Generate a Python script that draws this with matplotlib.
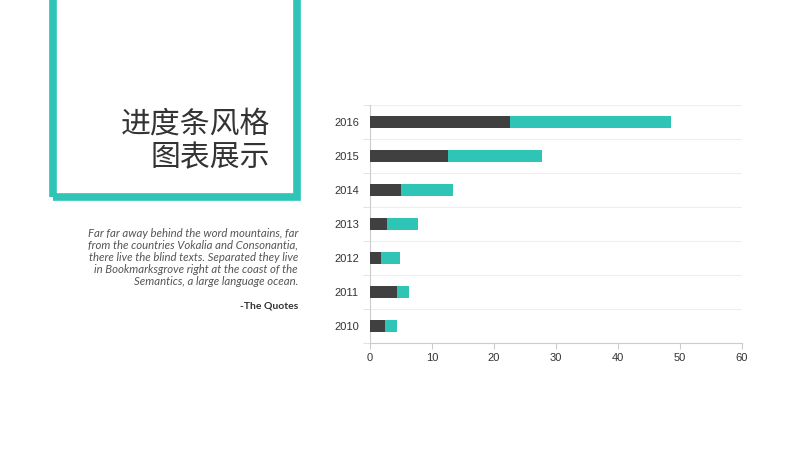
import matplotlib.pyplot as plt
from matplotlib.patches import Rectangle
import numpy as np

years = ['2010', '2011', '2012', '2013', '2014', '2015', '2016']
dark = [2.4, 4.4, 1.8, 2.8, 5.0, 12.6, 22.5]
teal = [2.0, 1.9, 3.1, 5.0, 8.4, 15.1, 26.0]

plt.rcParams['font.family'] = ['Noto Sans CJK SC', 'DejaVu Sans']

fig = plt.figure(figsize=(8, 4.5), dpi=100)

# teal frame
fig.patches.append(Rectangle((53 / 800, 1 - 197 / 450), 244 / 800, 210 / 450,
                             transform=fig.transFigure, fill=False,
                             edgecolor='#2ec4b6', linewidth=5.5))
fig.text(270 / 800, 1 - 124 / 450, '进度条风格', ha='right', va='center',
         fontsize=21.5, color='#333333', weight='light')
fig.text(270 / 800, 1 - 158 / 450, '图表展示', ha='right', va='center',
         fontsize=21.5, color='#333333', weight='light')

quote = ("Far far away behind the word mountains, far\n"
         "from the countries Vokalia and Consonantia,\n"
         "there live the blind texts. Separated they live\n"
         "in Bookmarksgrove right at the coast of the\n"
         "Semantics, a large language ocean.")
fig.text(298 / 800, 1 - 228 / 450, quote, ha='right', va='top', fontsize=8.2,
         style='italic', color='#555555', linespacing=1.1, family='Lato')
fig.text(298 / 800, 1 - 306 / 450, '-The Quotes', ha='right', va='center',
         fontsize=7.5, color='#333333', family='Lato', weight='bold')

ax = fig.add_axes([370 / 800, 1 - 343 / 450, 372 / 800, 238 / 450])
y = np.arange(len(years))
ax.barh(y, dark, height=0.36, color='#404040', zorder=3)
ax.barh(y, teal, left=dark, height=0.36, color='#2ec4b6', zorder=3)
ax.set_yticks(y)
ax.set_yticklabels(years, family='Liberation Sans')
ax.set_ylim(-0.5, len(years) - 0.5)
ax.set_yticks(np.arange(-0.5, len(years), 1), minor=True)
ax.grid(axis='y', which='minor', color='#eeeeee', linewidth=0.8, zorder=0)
ax.tick_params(axis='y', which='minor', length=5, color='#dddddd')
ax.tick_params(axis='y', which='major', length=0, labelsize=8, colors='#333333', pad=8)
ax.set_xlim(0, 60)
ax.set_xticks([0, 10, 20, 30, 40, 50, 60])
ax.set_xticklabels([str(v) for v in [0, 10, 20, 30, 40, 50, 60]], family='Liberation Sans')
ax.tick_params(axis='x', labelsize=8, colors='#333333', color='#cccccc', length=4)
ax.axhline(len(years) - 0.5, color='#eeeeee', linewidth=0.8)
for s in ['top', 'right']:
    ax.spines[s].set_visible(False)
for s in ['left', 'bottom']:
    ax.spines[s].set_color('#cccccc')

fig.savefig('out.png', dpi=100)
